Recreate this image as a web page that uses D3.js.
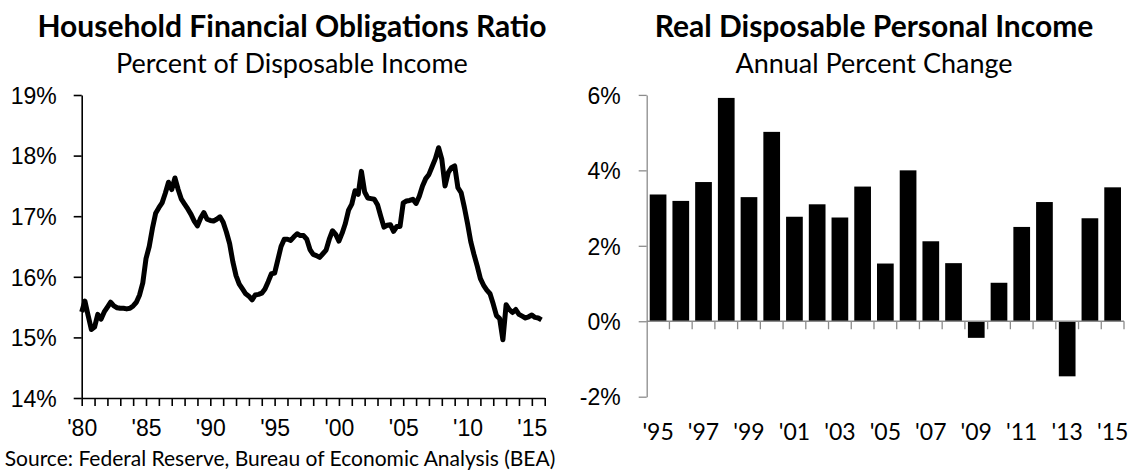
<!DOCTYPE html>
<html>
<head>
<meta charset="utf-8">
<script src="https://cdn.jsdelivr.net/npm/d3@7"></script>
<style>
  body { margin: 0; background: #fff; }
  svg { font-family: Lato, 'Open Sans', sans-serif; }
</style>
</head>
<body>
<svg id="chart" width="1130" height="470"></svg>
<script>
// Household financial obligations ratio, quarterly from 1980 Q1 (percent)
const forStart = 1980
const forValues = [
  15.42, 15.60, 15.36, 15.13,  15.17, 15.38, 15.30, 15.42,  15.50, 15.58, 15.52, 15.49,
  15.48, 15.48, 15.47, 15.48,  15.52, 15.58, 15.70, 15.90,  16.30, 16.50, 16.80, 17.05,
  17.14, 17.22, 17.38, 17.56,  17.44, 17.63, 17.44, 17.28,  17.20, 17.12, 17.03, 16.92,
  16.84, 16.97, 17.06, 16.95,  16.93, 16.92, 16.95, 16.99,  16.90, 16.74, 16.55, 16.25,
  16.02, 15.88, 15.80, 15.72,  15.68, 15.62, 15.70, 15.71,  15.73, 15.80, 15.92, 16.05,
  16.06, 16.28, 16.50, 16.62,  16.62, 16.60, 16.66, 16.71,  16.68, 16.68, 16.62, 16.45,
  16.37, 16.35, 16.32, 16.38,  16.44, 16.62, 16.76, 16.70,  16.59, 16.72, 16.88, 17.10,
  17.20, 17.42, 17.36, 17.74,  17.40, 17.30, 17.29, 17.28,  17.19, 17.00, 16.82, 16.85,
  16.86, 16.75, 16.83, 16.83,  17.22, 17.25, 17.26, 17.28,  17.21, 17.33, 17.50, 17.62,
  17.69, 17.82, 17.95, 18.13,  17.94, 17.50, 17.72, 17.80,  17.83, 17.47, 17.39, 17.15,
  16.88, 16.58, 16.37, 16.18,  15.97, 15.86, 15.78, 15.72,  15.55, 15.36, 15.31, 14.96,
  15.54, 15.46, 15.41, 15.46,  15.38, 15.35, 15.32, 15.34,  15.37, 15.33, 15.32, 15.29
]
const forTicks = [14, 15, 16, 17, 18, 19]

// Real disposable personal income, annual percent change
const rdpiYears = d3.range(1995, 2016)
const rdpiValues = [
  3.36, 3.19, 3.69, 5.92, 3.29, 5.02, 2.77, 3.10, 2.75, 3.57, 1.53,
  4.00, 2.12, 1.54, -0.44, 1.02, 2.50, 3.16, -1.46, 2.73, 3.55
]
const rdpiTicks = [-2, 0, 2, 4, 6]

const svg = d3.select('#chart')
const pct = (d) => d + '%'
const yearLabel = (d) => "'" + String(d).slice(2)

// ---- left: financial obligations ratio ----
const forData = forValues.map((v, i) => ({ t: forStart + i / 4, v }))

const x1 = d3.scaleLinear().domain([1980, 2016]).range([81.7, 544.7])
const y1 = d3.scaleLinear().domain([14, 19]).range([398, 95])

const left = svg.append('g')

left.append('g')
  .attr('transform', 'translate(' + x1.range()[0] + ',0)')
  .call(d3.axisLeft(y1).tickValues(forTicks).tickSize(8).tickSizeOuter(0).tickFormat(pct).tickPadding(17))
  .call((g) => g.selectAll('path, line').attr('stroke', '#000').attr('stroke-width', 1.6))
  .call((g) => g.selectAll('text').attr('font-size', 23).attr('fill', '#000').attr('dy', '0.36em'))

left.append('g')
  .attr('transform', 'translate(0,' + y1.range()[0] + ')')
  .call(d3.axisBottom(x1).tickValues(d3.range(1980, 2017)).tickSize(8).tickSizeOuter(0)
    .tickFormat((d) => (d % 5 === 0 && d < 2016 ? yearLabel(d) : '')).tickPadding(14))
  .call((g) => g.selectAll('path, line').attr('stroke', '#000').attr('stroke-width', 1.6))
  .call((g) => g.selectAll('text').attr('font-size', 23).attr('fill', '#000'))

left.append('path')
  .datum(forData)
  .attr('fill', 'none')
  .attr('stroke', '#000')
  .attr('stroke-width', 5)
  .attr('stroke-linejoin', 'round')
  .attr('d', d3.line().x((d) => x1(d.t)).y((d) => y1(d.v)))

left.append('text')
  .attr('x', 292).attr('y', 37)
  .attr('text-anchor', 'middle')
  .attr('font-size', 30).attr('font-weight', 'bold')
  .text('Household Financial Obligations Ratio')

left.append('text')
  .attr('x', 292).attr('y', 73)
  .attr('text-anchor', 'middle')
  .attr('font-size', 27)
  .text('Percent of Disposable Income')

left.append('text')
  .attr('x', 280).attr('y', 466)
  .attr('text-anchor', 'middle')
  .attr('font-size', 21)
  .text('Source: Federal Reserve, Bureau of Economic Analysis (BEA)')

// ---- right: real disposable personal income ----
const x2 = d3.scaleBand().domain(rdpiYears).range([646.7, 1124]).paddingInner(0.265).paddingOuter(0.1325)
const y2 = d3.scaleLinear().domain([-2, 6]).range([396.7, 94.9])

const right = svg.append('g')

right.selectAll('rect')
  .data(rdpiYears)
  .join('rect')
  .attr('x', (d) => x2(d))
  .attr('width', x2.bandwidth())
  .attr('y', (d, i) => y2(Math.max(0, rdpiValues[i])))
  .attr('height', (d, i) => Math.abs(y2(rdpiValues[i]) - y2(0)))
  .attr('fill', '#000')

right.append('g')
  .attr('transform', 'translate(' + x2.range()[0] + ',0)')
  .call(d3.axisLeft(y2).tickValues(rdpiTicks).tickSize(8).tickSizeOuter(0).tickFormat(pct).tickPadding(18))
  .call((g) => g.selectAll('path, line').attr('stroke', '#8c8c8c').attr('stroke-width', 1.3))
  .call((g) => g.selectAll('text').attr('font-size', 23).attr('fill', '#000').attr('dy', '0.36em'))

// zero line with ticks between the bars
const zero = right.append('g').attr('transform', 'translate(0,' + y2(0) + ')')
zero.append('line')
  .attr('x1', x2.range()[0]).attr('x2', x2.range()[1])
  .attr('stroke', '#8c8c8c').attr('stroke-width', 1.3)
zero.selectAll('line.tick')
  .data(d3.range(1, rdpiYears.length + 1))
  .join('line')
  .attr('class', 'tick')
  .attr('x1', (i) => x2.range()[0] + i * x2.step())
  .attr('x2', (i) => x2.range()[0] + i * x2.step())
  .attr('y2', 8)
  .attr('stroke', '#8c8c8c').attr('stroke-width', 1.3)

right.append('g')
  .attr('transform', 'translate(0,' + 440 + ')')
  .selectAll('text')
  .data(rdpiYears.filter((d) => d % 2 === 1))
  .join('text')
  .attr('x', (d) => x2(d) + x2.bandwidth() / 2)
  .attr('text-anchor', 'middle')
  .attr('font-size', 23)
  .text(yearLabel)

right.append('text')
  .attr('x', 874).attr('y', 37)
  .attr('text-anchor', 'middle')
  .attr('font-size', 30).attr('font-weight', 'bold')
  .text('Real Disposable Personal Income')

right.append('text')
  .attr('x', 874).attr('y', 73)
  .attr('text-anchor', 'middle')
  .attr('font-size', 27)
  .text('Annual Percent Change')
</script>
</body>
</html>
